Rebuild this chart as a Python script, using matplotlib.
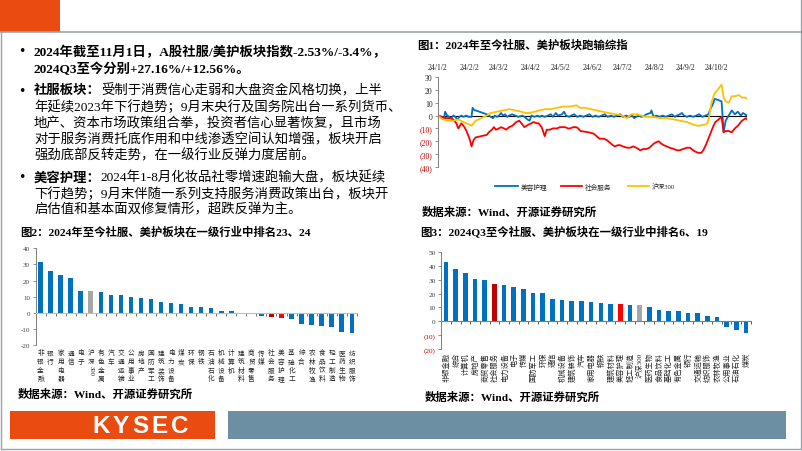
import numpy as np
import matplotlib
matplotlib.use('Agg')
import matplotlib.pyplot as plt
from matplotlib.patches import Rectangle
import matplotlib.transforms as mtransforms

FAM = ['Liberation Serif', 'Noto Sans CJK SC', 'DejaVu Sans']
CJK = ['Noto Sans CJK SC', 'DejaVu Sans']
plt.rcParams['font.family'] = FAM
plt.rcParams['axes.unicode_minus'] = False

# ---------------- data ----------------
line_start = '2024-01-02'
beauty_days = [0, 3, 6, 7, 9, 11, 13, 15, 17, 19, 21, 23, 25, 28, 30, 33, 34, 36, 37, 48, 50, 52, 54, 56, 58, 60,
               62, 64, 66, 68, 70, 73, 76, 79, 83, 85, 88, 90, 92, 95, 98, 100, 102, 105, 108, 111, 113, 116, 118,
               122, 124, 126, 129, 131, 134, 137, 140, 143, 146, 149, 152, 155, 158, 161, 164, 167, 170, 173, 176,
               179, 182, 185, 188, 191, 193, 195, 197, 200, 203, 205, 209, 210, 212, 215, 218, 221, 224, 227, 230,
               233, 235, 238, 240, 242, 245, 248, 251, 254, 257, 260, 263, 266, 268, 271, 272, 276, 279, 281, 283,
               286, 289, 292, 295, 298, 300, 302, 304]
beauty_vals = [0, -1, -2, 3, 0, -1, -2, 0, -1, -3, -1, 0, -1, 0, -1, -1, 6, 4, 4, 1, 0, -1, -2, 0, -1, 0,
               2, 0, 1, -1, 0, 1, 0, -1, 0, -1, -3, -4, 0, -1, 0, -1, 0, -1, 0, 1, -1, 2, 0,
               1, 3, 0, -1, 0, 1, -1, 0, -1, 0, 1, -1, 0, -1, 0, 1, -1, 0, -1, 0,
               1, -1, 0, -1, 0, -2, -1, 0, -1, 0, 1, 2, 4, -1, 0, -1, 0, -1, 0, 1,
               -1, 0, 1, 2, 0, -1, 0, -1, 0, 1, -1, 0, 1, 5, 10, 13, 12, 11, -13, -4,
               0, 4, 1, 3, 0, 2, 1, 0]
social_days = [0, 4, 8, 12, 15, 18, 20, 23, 26, 28, 31, 33, 35, 37, 48, 50, 53, 55, 57, 60, 62, 65, 67, 70, 73,
               77, 80, 82, 85, 87, 89, 92, 94, 97, 99, 102, 105, 107, 110, 113, 117, 120, 123, 125, 128, 130, 133,
               136, 138, 140, 144, 148, 153, 156, 159, 163, 166, 169, 172, 174, 177, 179, 182, 186, 189, 192, 195,
               199, 202, 205, 208, 212, 214, 217, 220, 222, 225, 228, 232, 235, 238, 241, 245, 248, 251, 253, 256,
               259, 261, 264, 268, 271, 273, 276, 279, 281, 283, 286, 289, 292, 295, 297, 299, 301, 303, 304]
social_vals = [0, -1, -2, -2, -3, -6, -10, -6, -9, -12, -18, -24, -19, -17, -15, -13, -11, -9, -11, -10, -9, -10,
               -11, -9, -8, -5, -4, -6, -9, -8, -7, -6, -5, -6, -6, -9, -16, -11, -11, -10, -10, -9, -9, -9, -10,
               -10, -9, -9, -10, -12, -12.5, -13, -14, -16, -18, -18, -19, -21, -23, -24, -23, -23, -24, -25, -25,
               -24, -25, -27, -26, -26, -25, -22, -21, -20, -22, -23, -24, -25, -26, -27, -27, -26, -25, -25, -27,
               -28, -29, -29, -27, -22, -14, -8, -5, -3, -1, -13, -12, -12, -13, -10, -8, -6, -4, -3, -2, -3]
hs300_days = [0, 3, 5, 10, 15, 20, 25, 28, 31, 33, 35, 37, 48, 52, 58, 64, 70, 76, 82, 86, 90, 95, 100, 105, 111,
              117, 123, 130, 136, 140, 145, 150, 156, 162, 168, 175, 181, 186, 190, 196, 200, 205, 212, 218, 225,
              232, 238, 245, 251, 256, 263, 265, 267, 269, 272, 279, 281, 283, 286, 289, 292, 296, 299, 302, 304]
hs300_vals = [0, -2, -3, -4, -4, -3, -5, -6, -7, -8, -6, -4, 0, 2, 3, 4, 5, 4, 3, 2, 2, 3, 4, 5, 5,
              6, 7, 7, 8, 6, 6, 5, 4, 3, 2, 1, 0, -2, 1, 1, 0, -1, -1, -2, -2,
              -3, -4, -5, -7, -8, -7, -6, 0, 10, 17, 24, 14, 11, 10, 15, 15, 16, 14, 14, 13]
series_names = ['美容护理', '社会服务', '沪深300']
series_colors = ['#0070C0', '#FF0000', '#FFC000']

line_tick_dates = ['2024-01-02', '2024-02-02', '2024-03-02', '2024-04-02', '2024-05-02',
                   '2024-06-02', '2024-07-02', '2024-08-02', '2024-09-02', '2024-10-02']
line_tick_labels = ['24/1/2', '24/2/2', '24/3/2', '24/4/2', '24/5/2',
                    '24/6/2', '24/7/2', '24/8/2', '24/9/2', '24/10/2']
line_yticks = [30, 20, 10, 0, -10, -20, -30, -40]
line_ytick_labels = ['30', '20', '10', '0', '(10)', '(20)', '(30)', '(40)']

ytd_categories = ['非银金融', '银行', '家用电器', '通信', '电子', '沪深300', '有色金属', '汽车', '交通运输',
                  '公用事业', '房地产', '国防军工', '建筑装饰', '电力设备', '煤炭', '环保', '钢铁', '石油石化',
                  '机械设备', '计算机', '建筑材料', '商贸零售', '传媒', '社会服务', '美容护理', '基础化工', '综合',
                  '农林牧渔', '食品饮料', '轻工制造', '医药生物', '纺织服饰']
ytd_values = [31.7, 25.9, 23.4, 21.3, 13.5, 13.3, 13.1, 11.2, 11.0, 9.7, 9.1, 8.3, 6.6, 5.8, 5.4, 3.7, 3.3, 3.1,
              1.0, 0.8, -0.1, -0.5, -2.2, -2.53, -3.4, -3.7, -6.8, -7.9, -8.5, -9.1, -11.8, -12.4]
ytd_yticks = [40, 30, 20, 10, 0, -10, -20]

q3_categories = ['非银金融', '综合', '计算机', '房地产', '商贸零售', '社会服务', '电力设备', '电子', '传媒',
                 '国防军工', '环保', '通信', '机械设备', '建筑装饰', '汽车', '家用电器', '钢铁', '建筑材料',
                 '美容护理', '轻工制造', '沪深300', '医药生物', '食品饮料', '基础化工', '有色金属', '银行',
                 '交通运输', '纺织服饰', '农林牧渔', '公用事业', '石油石化', '煤炭']
q3_values = [43.0, 37.4, 35.0, 30.7, 30.0, 27.16, 26.1, 25.1, 23.2, 20.5, 20.3, 15.9, 15.7, 14.5, 14.5, 14.0,
             13.5, 12.8, 12.56, 11.8, 11.6, 10.6, 8.5, 7.7, 7.5, 6.0, 5.8, 3.9, 3.4, -4.1, -6.0, -8.7]
q3_yticks = [50, 40, 30, 20, 10, 0, -10, -20]
q3_ytick_labels = ['50', '40', '30', '20', '10', '0', '(10)', '(20)']

highlight = {'社会服务': '#C00000', '美容护理': '#FF0000', '沪深300': '#A6A6A6'}
BLUE = '#0070C0'

# ---------------- figure ----------------
W, H = 802, 452
fig = plt.figure(figsize=(W / 100, H / 100), dpi=100)
bg = fig.add_axes([0, 0, 1, 1])
bg.set_xlim(0, W)
bg.set_ylim(H, 0)
bg.axis('off')


def rect(l, t, r, b):
    return [l / W, 1 - b / H, (r - l) / W, (b - t) / H]


# frame / header / footer
bg.add_patch(Rectangle((0, 0), 60, 33, color='#E94B10', lw=0))
bg.plot([0, W], [33, 33], color='#9AA3AD', lw=1.2)
bg.plot([1, 1], [33, 450], color='#9AA3AD', lw=1.0)
bg.plot([800.5, 800.5], [0, 450], color='#9AA3AD', lw=1.0)
bg.plot([1, 800.5], [450, 450], color='#9AA3AD', lw=1.0)
bg.add_patch(Rectangle((10, 412), 205, 28, color='#E94B10', lw=0))
bg.add_patch(Rectangle((228, 412), 558, 28, color='#6C8FA3', lw=0))
for ch, cx in zip('KYSEC', [101.5, 120.5, 140, 159.5, 179.5]):
    bg.text(cx, 427, ch, family=['Liberation Sans'], weight='bold', fontsize=17.5,
            color='white', ha='center', va='center')

# ---------------- body text ----------------
FS = 9.6
def bullet(y):
    bg.text(22, y, '•', fontsize=9, ha='center', va='center', family=['DejaVu Sans'])

bullet(52)
bg.text(34, 52, '2024年截至11月1日，A股社服/美护板块指数-2.53%/-3.4%，', fontsize=FS, weight='bold', va='center')
bg.text(34, 69, '2024Q3至今分别+27.16%/+12.56%。', fontsize=FS, weight='bold', va='center')

bullet(91)
t = bg.text(34, 91, '社服板块：', fontsize=FS, weight='bold', va='center')
bg.annotate('受制于消费信心走弱和大盘资金风格切换，上半', xy=(1, 0.5), xycoords=t, fontsize=FS,
            va='center', ha='left')
for y, s in zip([107.5, 124, 140, 156],
                ['年延续2023年下行趋势；9月末央行及国务院出台一系列货币、',
                 '地产、资本市场政策组合拳，投资者信心显著恢复，且市场',
                 '对于服务消费托底作用和中线渗透空间认知增强，板块开启',
                 '强劲底部反转走势，在一级行业反弹力度居前。']):
    bg.text(34, y, s, fontsize=FS, va='center')

bullet(178)
t = bg.text(34, 178, '美容护理：', fontsize=FS, weight='bold', va='center')
bg.annotate('2024年1-8月化妆品社零增速跑输大盘，板块延续', xy=(1, 0.5), xycoords=t, fontsize=FS,
            va='center', ha='left')
for y, s in zip([194, 210],
                ['下行趋势；9月末伴随一系列支持服务消费政策出台，板块开',
                 '启估值和基本面双修复情形，超跌反弹为主。']):
    bg.text(34, y, s, fontsize=FS, va='center')

# titles & sources
TFS = 8.2
bg.text(417, 45, '图1：2024年至今社服、美护板块跑输综指', fontsize=TFS, weight='bold', va='center')
bg.text(20, 232, '图2：2024年至今社服、美护板块在一级行业中排名23、24', fontsize=TFS, weight='bold', va='center')
bg.text(420, 231.5, '图3：2024Q3至今社服、美护板块在一级行业中排名6、19', fontsize=TFS, weight='bold', va='center')
bg.text(422, 212, '数据来源：Wind、开源证券研究所', fontsize=TFS, weight='bold', va='center')
bg.text(18, 394, '数据来源：Wind、开源证券研究所', fontsize=TFS, weight='bold', va='center')
bg.text(425, 397, '数据来源：Wind、开源证券研究所', fontsize=TFS, weight='bold', va='center')

# ---------------- Fig 1: line chart ----------------
ax1 = fig.add_axes(rect(438, 78, 747, 168))
ax1.set_facecolor('none')
t0 = np.datetime64(line_start, 'D')
ax1.axhline(0, color='black', lw=0.8, zorder=1)
for d, v, c, n in zip([beauty_days, social_days, hs300_days],
                      [beauty_vals, social_vals, hs300_vals], series_colors, series_names):
    ax1.plot(d, v, color=c, lw=1.3, label=n, zorder=2)
ax1.set_xlim(0, 304)
ax1.set_ylim(-40, 30)
ax1.set_yticks(line_yticks)
ax1.set_yticklabels(line_ytick_labels)
for lab, val in zip(ax1.get_yticklabels(), line_yticks):
    lab.set_color('#C00000' if val < 0 else '#262626')
ax1.tick_params(axis='y', labelsize=5.6, length=2, width=0.6, color='#7F7F7F', pad=2)
tick_pos = (np.array(line_tick_dates, dtype='datetime64[D]') - t0).astype(int)
ax1.xaxis.tick_top()
ax1.set_xticks(tick_pos)
ax1.set_xticklabels(line_tick_labels)
ax1.tick_params(axis='x', labelsize=5.6, length=0, pad=4, labelcolor='#262626')
for s in ['top', 'right', 'bottom']:
    ax1.spines[s].set_visible(False)
ax1.spines['left'].set_color('#7F7F7F')
ax1.spines['left'].set_linewidth(0.7)

# legend (manual)
leg_x = [(495, 518), (561, 582), (628, 649)]
for (xa, xb), c, n in zip(leg_x, series_colors, series_names):
    bg.plot([xa, xb], [187.3, 187.3], color=c, lw=1.3)
    bg.text(xb + 2.5, 187.3, n, fontsize=4.8, va='center', ha='left', color='#262626')


# ---------------- bar helper ----------------
def bar_colors(cats):
    return [highlight.get(c, BLUE) for c in cats]


# ---------------- Fig 2 ----------------
ax2 = fig.add_axes(rect(35.5, 249.3, 357.3, 346))
ax2.set_facecolor('none')
x2 = np.arange(len(ytd_categories))
ax2.bar(x2, ytd_values, width=0.45, color=bar_colors(ytd_categories), zorder=2)
ax2.set_xlim(-0.5, len(ytd_categories) - 0.45)
ax2.set_ylim(-20, 40)
ax2.set_yticks(ytd_yticks)
ax2.tick_params(axis='y', labelsize=5, length=2, width=0.6, color='#7F7F7F', pad=2, labelcolor='#404040')
ax2.set_xticks(np.arange(-0.5, len(ytd_categories), 1))
ax2.set_xticklabels([])
ax2.tick_params(axis='x', length=2.2, width=0.6, color='#595959', direction='out')
ax2.spines['bottom'].set_position(('data', 0))
ax2.spines['bottom'].set_color('#BFBFBF')
ax2.spines['bottom'].set_linewidth(0.8)
for s in ['top', 'right']:
    ax2.spines[s].set_visible(False)
ax2.spines['left'].set_color('#7F7F7F')
ax2.spines['left'].set_linewidth(0.7)
tr2 = mtransforms.blended_transform_factory(ax2.transData, bg.transData)
for i, name in enumerate(ytd_categories):
    cjk = ''.join(ch for ch in name if not ch.isdigit())
    digits = ''.join(ch for ch in name if ch.isdigit())
    tt = ax2.text(i, 349.5, '\n'.join(cjk), transform=tr2, fontsize=4.8, family=CJK,
                  ha='center', va='top', linespacing=1.1, color='#262626')
    if digits:
        ax2.annotate(digits, xy=(0.5, 0), xycoords=tt, fontsize=4.8, rotation=270,
                     ha='center', va='top', color='#262626')

# ---------------- Fig 3 ----------------
ax3 = fig.add_axes(rect(441.2, 253, 750.8, 350))
ax3.set_facecolor('none')
x3 = np.arange(len(q3_categories))
ax3.bar(x3, q3_values, width=0.48, color=bar_colors(q3_categories), zorder=2)
ax3.set_xlim(-0.5, len(q3_categories) - 0.5)
ax3.set_ylim(-20, 50)
ax3.set_yticks(q3_yticks)
ax3.set_yticklabels(q3_ytick_labels)
for lab, val in zip(ax3.get_yticklabels(), q3_yticks):
    lab.set_color('#C00000' if val < 0 else '#404040')
ax3.tick_params(axis='y', labelsize=5.2, length=2, width=0.6, color='#7F7F7F', pad=2)
ax3.set_xticks(np.arange(-0.5, len(q3_categories), 1))
ax3.set_xticklabels([])
ax3.tick_params(axis='x', length=2.2, width=0.6, color='#404040', direction='out')
ax3.spines['bottom'].set_position(('data', 0))
ax3.spines['bottom'].set_color('#7F7F7F')
ax3.spines['bottom'].set_linewidth(0.8)
for s in ['top', 'right']:
    ax3.spines[s].set_visible(False)
ax3.spines['left'].set_color('#7F7F7F')
ax3.spines['left'].set_linewidth(0.7)
tr3 = mtransforms.blended_transform_factory(ax3.transData, bg.transData)
for i, name in enumerate(q3_categories):
    ax3.text(i, 353, name, transform=tr3, fontsize=5.2, rotation=90,
             ha='center', va='top', color='#262626')

fig.savefig('out.png', dpi=100)
